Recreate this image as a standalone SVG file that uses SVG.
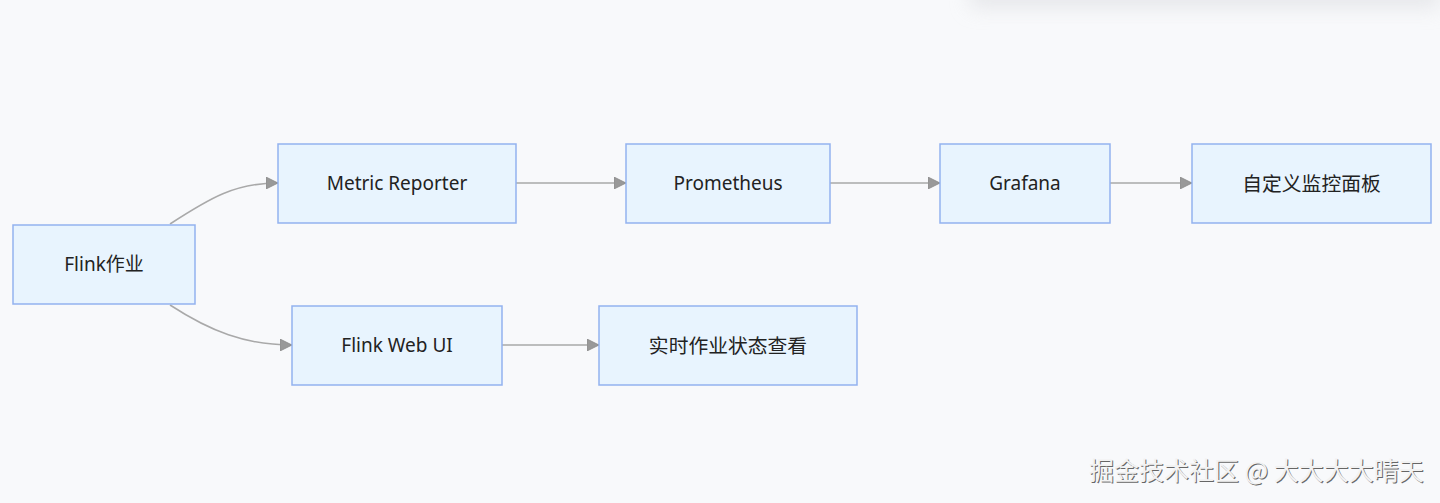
<svg xmlns="http://www.w3.org/2000/svg" width="1440" height="503" viewBox="0 0 1440 503">
<style>
.node rect{fill:#e8f4fe;stroke:#93b2ef;stroke-width:1.5}
.node text{font-family:"Noto Sans","Noto Sans CJK SC",sans-serif;font-size:19px;fill:#222;text-anchor:middle;dominant-baseline:central}
.node text.cjk{font-size:19.8px}
.edge{fill:none;stroke:#a9a9a9;stroke-width:1.5}
.wm{font-family:"Noto Sans CJK SC",sans-serif;font-size:25px}
</style>
<defs>
<marker id="arr" viewBox="0 0 12 12" refX="12" refY="6" markerWidth="12" markerHeight="12" markerUnits="userSpaceOnUse" orient="auto">
<path d="M0,0 L12,6 L0,12 z" fill="#999" stroke="#8a8a8a" stroke-width="0.8"/>
</marker>
<filter id="blur" x="-20%" y="-200%" width="140%" height="500%"><feGaussianBlur stdDeviation="10"/></filter>
</defs>
<rect width="1440" height="503" fill="#f8f9fb"/>
<rect x="970" y="-20" width="470" height="28" fill="#dfe0e3" opacity="0.7" filter="url(#blur)"/>
<g id="connectors">
<path class="edge" d="M170,224 C210,198 235,183 278,183" marker-end="url(#arr)"/>
<path class="edge" d="M170,305 C210,331 245,345 292,345" marker-end="url(#arr)"/>
<path class="edge" d="M516,183 L626,183" marker-end="url(#arr)"/>
<path class="edge" d="M830,183 L940,183" marker-end="url(#arr)"/>
<path class="edge" d="M1110,183 L1192,183" marker-end="url(#arr)"/>
<path class="edge" d="M502,345 L599,345" marker-end="url(#arr)"/>
</g>
<g id="flink" class="node"><rect x="13" y="225" width="182" height="79"/><text x="104" y="264">Flink作业</text></g>
<g id="metric" class="node"><rect x="278" y="144" width="238" height="79"/><text x="397" y="183">Metric Reporter</text></g>
<g id="prometheus" class="node"><rect x="626" y="144" width="204" height="79"/><text x="728" y="183">Prometheus</text></g>
<g id="grafana" class="node"><rect x="940" y="144" width="170" height="79"/><text x="1025" y="183">Grafana</text></g>
<g id="dashboard" class="node"><rect x="1192" y="144" width="239" height="79"/><text class="cjk" x="1311.5" y="183">自定义监控面板</text></g>
<g id="webui" class="node"><rect x="292" y="306" width="210" height="79"/><text x="397" y="345">Flink Web UI</text></g>
<g id="status" class="node"><rect x="599" y="306" width="258" height="79"/><text class="cjk" x="728" y="345">实时作业状态查看</text></g>
<g id="watermark">
<text class="wm" x="1090" y="481" fill="#666">掘金技术社区 @ 大大大大晴天</text>
<text class="wm" x="1089" y="480" fill="#f2f2f2">掘金技术社区 @ 大大大大晴天</text>
</g>
</svg>
